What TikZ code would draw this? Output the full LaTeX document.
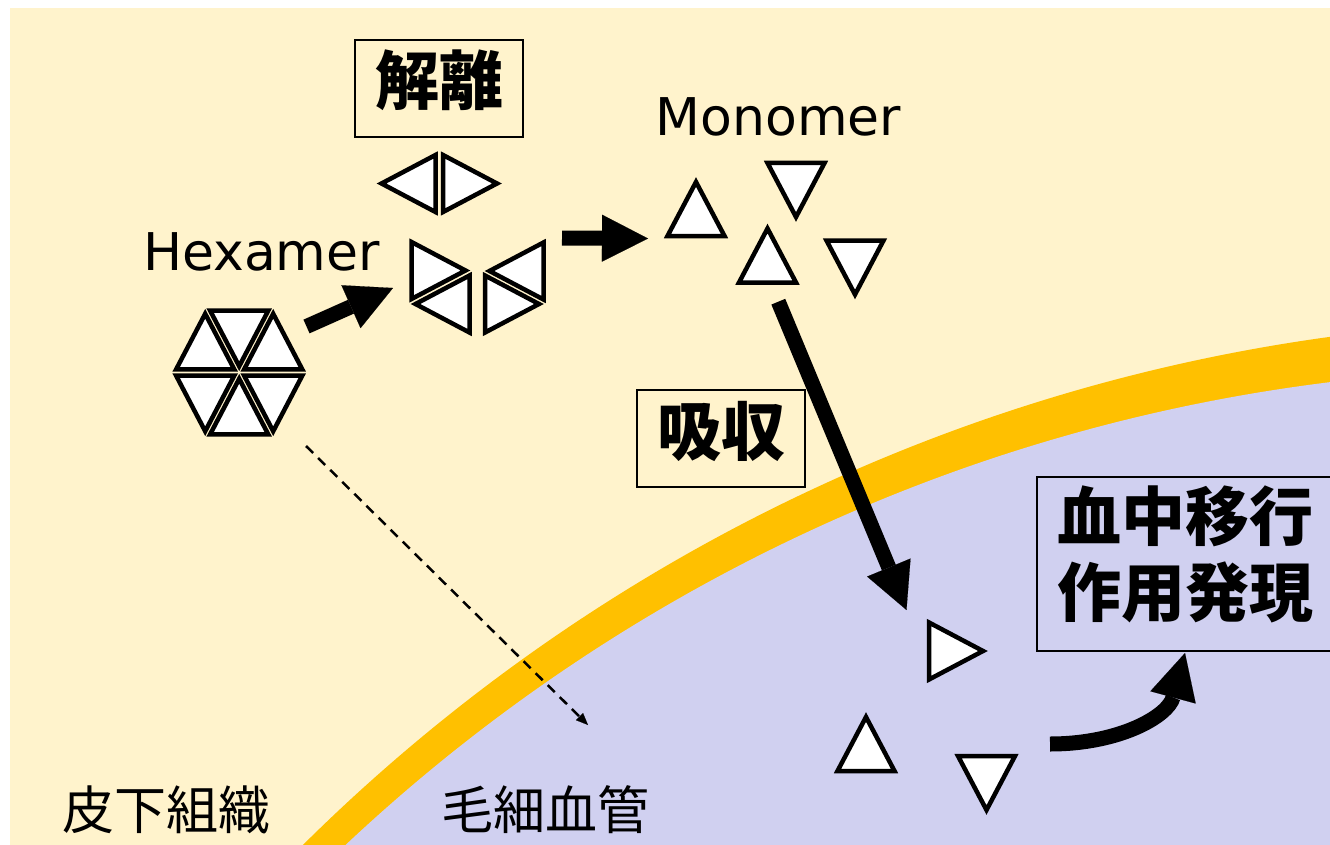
\documentclass[tikz,border=0pt]{standalone}
\usepackage{fontspec}
\setmainfont{DejaVu Sans}
\newfontfamily\jp{Noto Sans CJK JP}
\usetikzlibrary{arrows.meta,calc}

\definecolor{tissue}{HTML}{FFF3CC}
\definecolor{wall}{HTML}{FFC000}
\definecolor{blood}{HTML}{D0D0F0}

\tikzset{
  tri/.style={draw=black, fill=white, line width=4.5pt, line join=miter},
  bigarrow/.style={line width=15pt, -{Triangle[length=46pt, width=47pt, line width=0.1pt]}},
  dashflow/.style={line width=2.5pt, dash pattern=on 10pt off 7pt,
                   -{Triangle[length=12pt, width=10pt, line width=0.1pt]}},
  labelbox/.style={draw=black, line width=1.5pt, inner sep=0pt},
  jpbig/.style={font=\jp\bfseries\fontsize{64}{76}\selectfont, inner sep=0pt},
  jpreg/.style={font=\jp\fontsize{52}{60}\selectfont, inner sep=0pt},
  latin/.style={font=\fontsize{52}{60}\selectfont, inner sep=0pt},
  pics/triU/.style={code={\draw[tri] (0,-27)--(28.5,27)--(-28.5,27)--cycle;}},
  pics/triD/.style={code={\draw[tri] (0,27)--(28.5,-27)--(-28.5,-27)--cycle;}},
  pics/triR/.style={code={\draw[tri] (27,0)--(-27,28.5)--(-27,-28.5)--cycle;}},
  pics/triL/.style={code={\draw[tri] (-27,0)--(27,28.5)--(27,-28.5)--cycle;}},
}

\begin{document}
\begin{tikzpicture}[x=1pt,y=-1pt]
\useasboundingbox (0,0) rectangle (1330,845);
\fill[white] (0,0) rectangle (1330,845);

% subcutaneous tissue and the capillary wall
\fill[tissue] (10,8) rectangle (1330,845);
\begin{scope}
  \clip (10,8) rectangle (1330,845);
  \fill[wall] (1578,2131) circle[radius=1811];
  \fill[blood] (1547.5,2123.8) circle[radius=1755];
\end{scope}

% anchor points of the flows
\coordinate (hexC) at (239.2,372.5);
\coordinate (a1s) at (306.5,326.5);
\coordinate (a1e) at (393,288);
\coordinate (a2s) at (562,238);
\coordinate (a2e) at (648,238.5);
\coordinate (a3s) at (778.3,301.7);
\coordinate (a3e) at (906.5,610);
\coordinate (a4s) at (1050,744);
\coordinate (a4e) at (1185,653);
\coordinate (ds) at (306,446);
\coordinate (de) at (588,725);

% direct route of the hexamer into the capillary
\draw[dashflow] (ds) -- (de);

% labelled boxes
\node[labelbox, jpbig, minimum width=168pt, text height=65pt, text depth=32pt] (dissoc) at (439,88.5) {解離};
\node[labelbox, jpbig, minimum width=168pt, text height=65pt, text depth=32pt] (absorb) at (721,438.5) {吸収};
\node[labelbox, minimum width=297pt, minimum height=174pt] (effectbox) at (1185.5,564) {};
\node[jpbig, anchor=base] (effect1) at (1185.5,540) {血中移行};
\node[jpbig, anchor=base] (effect2) at (1185.5,616) {作用発現};

% hexamer
\begin{scope}[shift={(hexC)}]
  \draw[tri] (4.93,-3.14) -- (63.07,-3.14) -- (34.0,-58.72) -- cycle;
  \draw[tri] (0,-6.28) -- (29.07,-61.86) -- (-29.07,-61.86) -- cycle;
  \draw[tri] (-4.93,-3.14) -- (-34.0,-58.72) -- (-63.07,-3.14) -- cycle;
  \draw[tri] (-4.93,3.14) -- (-63.07,3.14) -- (-34.0,58.72) -- cycle;
  \draw[tri] (0,6.28) -- (-29.07,61.86) -- (29.07,61.86) -- cycle;
  \draw[tri] (4.93,3.14) -- (34.0,58.72) -- (63.07,3.14) -- cycle;
\end{scope}

% dimers
\pic at (408.5,183.5) {triL};
\pic at (470,183.5) {triR};
\pic at (438.5,270.5) {triR};
\pic at (442.5,304) {triL};
\pic at (516.5,271) {triL};
\pic at (512,304) {triR};

% monomers in the tissue
\pic at (696,209) {triU};
\pic at (796,190) {triD};
\pic at (767.5,255.5) {triU};
\pic at (855,267.5) {triD};

% monomers in the blood
\pic at (956,651) {triR};
\pic at (866,744) {triU};
\pic at (986.5,783) {triD};

% flows
\draw[bigarrow] (a1s) -- (a1e);
\draw[bigarrow] (a2s) -- (a2e);
\draw[bigarrow] (a3s) -- (a3e);
\draw[bigarrow] (a4s) .. controls (1120,744) and (1168,716) .. (a4e);

% labels
\node[latin, anchor=base] (hexlabel) at (261.5,270) {Hexamer};
\node[latin, anchor=base] (monolabel) at (778.5,136) {Monomer};
\node[jpreg, anchor=base] (tissuelabel) at (166,829) {皮下組織};
\node[jpreg, anchor=base] (capillarylabel) at (545,829) {毛細血管};
\end{tikzpicture}
\end{document}
